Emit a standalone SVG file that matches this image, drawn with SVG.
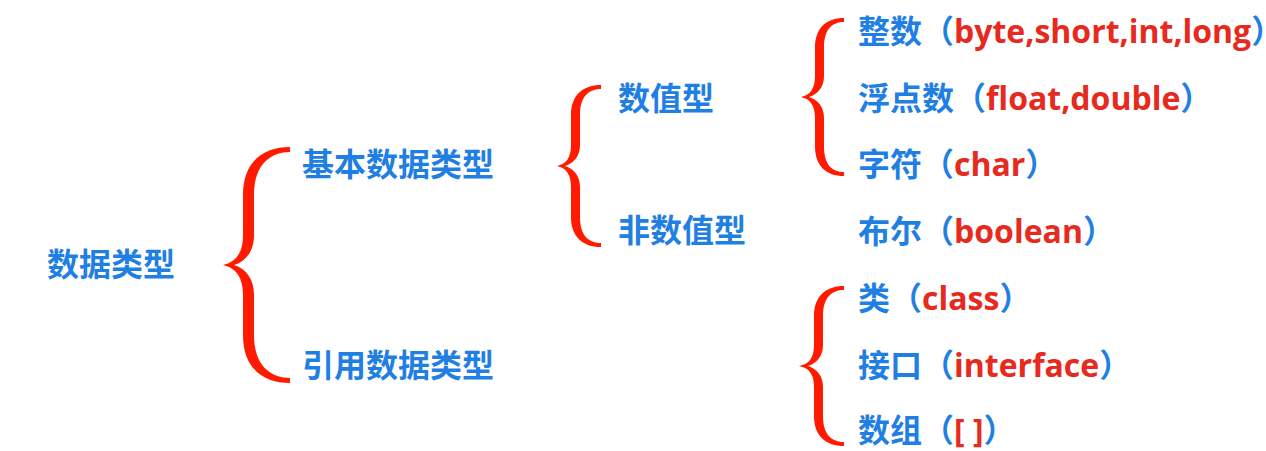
<svg xmlns="http://www.w3.org/2000/svg" width="1266" height="451" viewBox="0 0 1266 451">
<style>
text{font-family:"Open Sans","Noto Sans CJK SC",sans-serif;font-weight:bold;font-size:32px;fill:#1f7fe3}
.r{fill:#e62a1e}
.cp{font-feature-settings:"halt"}
.brace{fill:#ff1a00}
</style>
<rect width="1266" height="451" fill="#ffffff"/>
<g id="connectors">
<path class="brace" d="M290,147 C265,147 243,160 243,195 L243,235 C243,253 236,262 223,265 C236,268 243,277 243,295 L243,335 C243,370 265,383 290,383 L290,378 C272,378 254,367 254,335 L254,295 C254,280 247,269 234,265 C247,261 254,250 254,235 L254,195 C254,163 272,152 290,152 Z"/>
<path class="brace" d="M601,85 C583,85 571,95 571,115 L571,145 C571,158 566,164 557,166 C566,168 571,174 571,187 L571,217 C571,237 583,247 601,247 L601,243 C589,243 580,236 580,217 L580,187 C580,176 574,169 565,166 C574,163 580,156 580,145 L580,115 C580,96 589,89 601,89 Z"/>
<path class="brace" d="M844,18 C826,18 815,28 815,48 L815,76 C815,89 810,95 801,97 C810,99 815,105 815,118 L815,146 C815,166 826,176 844,176 L844,172 C832,172 824,165 824,146 L824,118 C824,107 818,100 809,97 C818,94 824,87 824,76 L824,48 C824,29 832,22 844,22 Z"/>
<path class="brace" d="M844,286 C826,286 814,296 814,316 L814,345 C814,358 809,364 799,366 C809,368 814,374 814,387 L814,416 C814,436 826,446 844,446 L844,442 C832,442 823,435 823,416 L823,387 C823,376 817,369 808,366 C817,363 823,356 823,345 L823,316 C823,297 832,290 844,290 Z"/>
</g>
<g id="n-root"><text x="47" y="276">数据类型</text></g>
<g id="n-basic"><text x="302" y="176">基本数据类型</text></g>
<g id="n-ref"><text x="302" y="377">引用数据类型</text></g>
<g id="n-num"><text x="618" y="110">数值型</text></g>
<g id="n-nonnum"><text x="618" y="242">非数值型</text></g>
<g id="n-int"><text x="858" y="43">整数（<tspan class="r">byte,short,int,long</tspan><tspan class="cp">）</tspan></text></g>
<g id="n-float"><text x="858" y="110">浮点数（<tspan class="r">float,double</tspan><tspan class="cp">）</tspan></text></g>
<g id="n-char"><text x="858" y="176">字符（<tspan class="r">char</tspan><tspan class="cp">）</tspan></text></g>
<g id="n-bool"><text x="858" y="243">布尔（<tspan class="r">boolean</tspan><tspan class="cp">）</tspan></text></g>
<g id="n-class"><text x="858" y="310">类（<tspan class="r">class</tspan><tspan class="cp">）</tspan></text></g>
<g id="n-iface"><text x="858" y="377">接口（<tspan class="r">interface</tspan><tspan class="cp">）</tspan></text></g>
<g id="n-array"><text x="858" y="442">数组（<tspan class="r">[ ]</tspan><tspan class="cp">）</tspan></text></g>
</svg>
